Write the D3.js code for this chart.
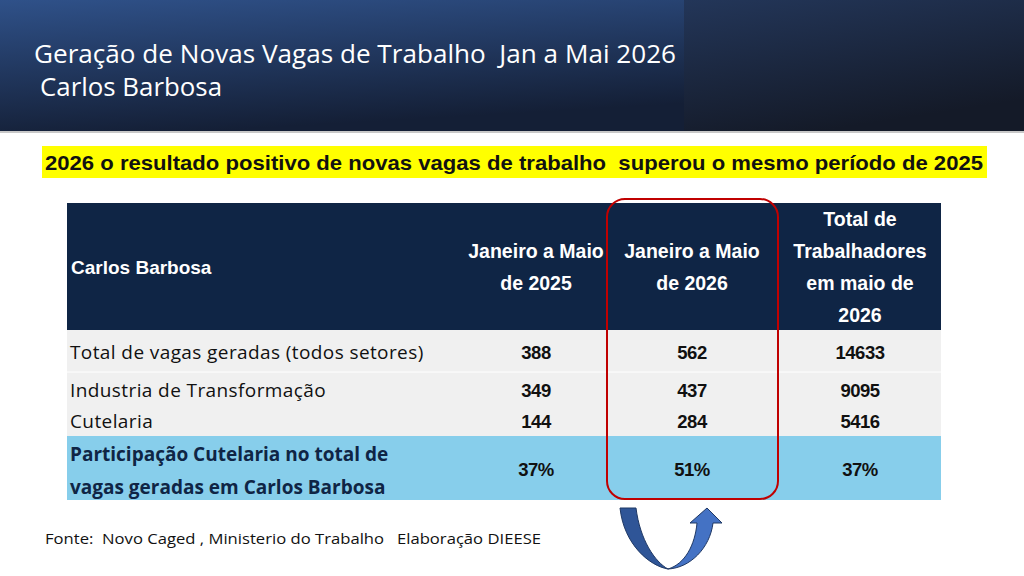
<!DOCTYPE html>
<html><head><meta charset="utf-8">
<script src="https://cdn.jsdelivr.net/npm/d3@7"></script>
<style>body{margin:0;background:#fff}svg{display:block}text{white-space:pre}</style>
</head><body><svg id="c"></svg>
<script>
const columns = ["Janeiro a Maio|de 2025", "Janeiro a Maio|de 2026", "Total de|Trabalhadores|em maio de|2026"];
const rowLabels = ["Total de vagas geradas (todos setores)", "Industria de Transformação", "Cutelaria"];
const vagas2025 = [388, 349, 144];
const vagas2026 = [562, 437, 284];
const totalMaio = [14633, 9095, 5416];
const participacao = ["37%", "51%", "37%"];

const W = 1024, H = 576;
const svg = d3.select("#c").attr("width", W).attr("height", H);
const defs = svg.append("defs");
const g1 = defs.append("linearGradient").attr("id", "hdr").attr("x1", 0).attr("y1", 0).attr("x2", 0.3).attr("y2", 1);
g1.append("stop").attr("offset", 0).attr("stop-color", "#2f5189");
g1.append("stop").attr("offset", 1).attr("stop-color", "#141f36");
const g2 = defs.append("linearGradient").attr("id", "hdr2").attr("x1", 0).attr("y1", 0).attr("x2", 0.4).attr("y2", 1);
g2.append("stop").attr("offset", 0).attr("stop-color", "#233659");
g2.append("stop").attr("offset", 1).attr("stop-color", "#141a28");

svg.append("rect").attr("width", 684).attr("height", 131).attr("fill", "url(#hdr)");
svg.append("rect").attr("x", 684).attr("width", W - 684).attr("height", 131).attr("fill", "url(#hdr2)");
svg.append("rect").attr("y", 131).attr("width", W).attr("height", 2).attr("fill", "#c8c8c8");

const title = svg.append("text").attr("fill", "#fff").attr("font-family", "Open Sans").attr("font-size", 26);
title.append("tspan").attr("x", 34).attr("y", 63).attr("textLength", 642).attr("lengthAdjust", "spacingAndGlyphs")
  .text("Geração de Novas Vagas de Trabalho  Jan a Mai 2026");
title.append("tspan").attr("x", 40).attr("y", 96).attr("textLength", 182).attr("lengthAdjust", "spacingAndGlyphs").text("Carlos Barbosa");

svg.append("rect").attr("x", 42).attr("y", 146).attr("width", 945).attr("height", 32).attr("fill", "#ffff00");
svg.append("text").attr("x", 45).attr("y", 170).attr("font-family", "Liberation Sans")
  .attr("font-weight", "bold").attr("font-size", 21).attr("fill", "#111").attr("textLength", 938).attr("lengthAdjust", "spacingAndGlyphs")
  .text("2026 o resultado positivo de novas vagas de trabalho  superou o mesmo período de 2025");

// table layout
const x = d3.scaleOrdinal().domain([0, 1, 2]).range([536, 692, 860]);
const tL = 67, tR = 941;
const rowY = [330, 372, 407, 436, 500];
svg.append("rect").attr("x", tL).attr("y", 203).attr("width", tR - tL).attr("height", 127).attr("fill", "#0f2545");
svg.append("text").attr("x", 71).attr("y", 274).attr("fill", "#fff").attr("font-family", "Liberation Sans")
  .attr("font-weight", "bold").attr("font-size", 19).text("Carlos Barbosa");
columns.forEach((c, i) => {
  const lines = c.split("|");
  const y0 = lines.length > 2 ? 226 : 258;
  const t = svg.append("text").attr("fill", "#fff").attr("font-family", "Liberation Sans").attr("font-weight", "bold")
    .attr("font-size", 19.5).attr("text-anchor", "middle");
  lines.forEach((l, k) => t.append("tspan").attr("x", x(i)).attr("y", y0 + k * 32).text(l));
});
const fills = ["#f0f0f0", "#f0f0f0", "#f0f0f0", "#87ceeb"];
fills.forEach((f, i) => svg.append("rect").attr("x", tL).attr("y", rowY[i]).attr("width", tR - tL).attr("height", rowY[i + 1] - rowY[i]).attr("fill", f));
svg.append("line").attr("x1", tL).attr("x2", tR).attr("y1", 372).attr("y2", 372).attr("stroke", "#fff").attr("stroke-width", 1);

rowLabels.forEach((r, i) => {
  const cy = [359, 397, 428][i];
  svg.append("text").attr("x", 70).attr("y", cy).attr("font-family", "Open Sans").attr("font-size", 19).attr("letter-spacing", 0.4).attr("fill", "#111").text(r);
  [vagas2025[i], vagas2026[i], totalMaio[i]].forEach((v, j) =>
    svg.append("text").attr("x", x(j)).attr("y", cy).attr("text-anchor", "middle").attr("font-family", "Liberation Sans")
      .attr("font-weight", "bold").attr("font-size", 18.5).attr("letter-spacing", -0.5).attr("fill", "#111").text(v));
});
const pl = svg.append("text").attr("font-family", "Open Sans").attr("font-weight", "bold").attr("font-size", 19).attr("fill", "#0f2545");
pl.append("tspan").attr("x", 70).attr("y", 461).text("Participação Cutelaria no total de");
pl.append("tspan").attr("x", 70).attr("y", 494).text("vagas geradas em Carlos Barbosa");
participacao.forEach((p, j) => svg.append("text").attr("x", x(j)).attr("y", 476).attr("text-anchor", "middle")
  .attr("font-family", "Liberation Sans").attr("font-weight", "bold").attr("font-size", 18.5).attr("letter-spacing", -0.5).attr("fill", "#111").text(p));

svg.append("rect").attr("x", 607).attr("y", 199).attr("width", 171).attr("height", 300).attr("rx", 18)
  .attr("fill", "none").attr("stroke", "#c00000").attr("stroke-width", 2);

svg.append("text").attr("x", 45).attr("y", 544).attr("font-family", "Open Sans").attr("font-size", 15).attr("fill", "#111")
  .attr("textLength", 496).attr("lengthAdjust", "spacingAndGlyphs").text("Fonte:  Novo Caged , Ministerio do Trabalho   Elaboração DIEESE");

// u-turn arrow
svg.append("path").attr("d", "M620,508 L636,508 C640,540 655,562 668,569 C650,566 624,545 620,508 Z")
  .attr("fill", "#2f5597").attr("stroke", "#1f3864").attr("stroke-width", 1);
svg.append("path").attr("d", "M668,569 C685,564 695,545 697,523 L690,523 L707,508 L722,523 L713,523 C710,548 690,568 668,569 Z")
  .attr("fill", "#4472c4").attr("stroke", "#1f3864").attr("stroke-width", 1);
</script></body></html>
